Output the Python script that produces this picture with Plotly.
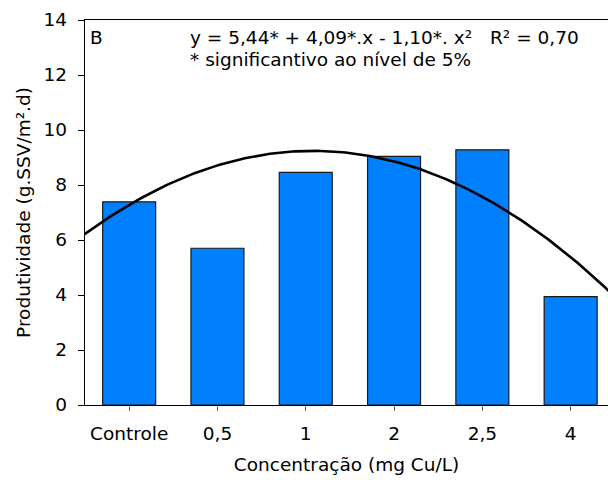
import numpy as np
import plotly.graph_objects as go

categories = ["Controle", "0,5", "1", "2", "2,5", "4"]
produtividade = [7.39, 5.70, 8.46, 9.04, 9.28, 3.94]

# fitted regression shown in the chart: y = b0 + b1*x + b2*x^2
coef_b0, coef_b1, coef_b2 = 5.44, 4.09, -1.10
curve_x = np.linspace(0, 4.05, 200)
curve_y = coef_b0 + coef_b1 * curve_x + coef_b2 * curve_x ** 2

y_ticks = [0, 2, 4, 6, 8, 10, 12, 14]

FONT = "DejaVu Sans, Liberation Sans, Arial, sans-serif"
FS = 18.5

fig = go.Figure()
fig.add_trace(go.Bar(
    x=list(range(len(categories))), y=produtividade,
    width=0.6,
    marker=dict(color="#0080FF", line=dict(color="#1a1a1a", width=1.2)),
    showlegend=False,
))
fig.add_trace(go.Scatter(
    x=curve_x, y=curve_y, mode="lines", xaxis="x2",
    line=dict(color="black", width=2.6), showlegend=False,
))

fig.update_layout(
    width=608, height=480,
    margin=dict(l=85, r=0, t=20, b=75),
    plot_bgcolor="white", paper_bgcolor="white",
    font=dict(family=FONT, size=FS, color="black"),
    xaxis=dict(
        range=[-0.5, 5.423],
        tickmode="array", tickvals=list(range(len(categories))), ticktext=categories,
        ticks="outside", ticklen=5, tickcolor="#666666", tickwidth=1,
        ticklabelstandoff=7,
        showline=True, linecolor="black", linewidth=1.3, mirror=True,
        showgrid=False, zeroline=False,
        title=dict(text="Concentração (mg Cu/L)", font=dict(size=FS), standoff=14),
        tickfont=dict(size=FS),
    ),
    xaxis2=dict(
        range=[0.2015, 4.005], overlaying="x", visible=False,
    ),
    yaxis=dict(
        range=[0, 14], tickvals=y_ticks,
        ticks="outside", ticklen=6, tickcolor="black", tickwidth=1,
        ticklabelstandoff=7,
        showline=True, linecolor="black", linewidth=1.3,
        showgrid=False, zeroline=False,
        title=dict(text="Produtividade (g.SSV/m².d)", font=dict(size=FS), standoff=8),
        tickfont=dict(size=FS),
    ),
    annotations=[
        dict(text="B", xref="x", yref="y", x=-0.47, y=13.38,
             xanchor="left", yanchor="middle", showarrow=False),
        dict(text="y = 5,44* + 4,09*.x - 1,10*. x²", xref="x", yref="y",
             x=0.668, y=13.38, xanchor="left", yanchor="middle", showarrow=False),
        dict(text="* significantivo ao nível de 5%", xref="x", yref="y",
             x=0.668, y=12.55, xanchor="left", yanchor="middle", showarrow=False),
        dict(text="R² = 0,70", xref="x", yref="y",
             x=4.066, y=13.38, xanchor="left", yanchor="middle", showarrow=False),
    ],
)

fig.write_html("out.html")
